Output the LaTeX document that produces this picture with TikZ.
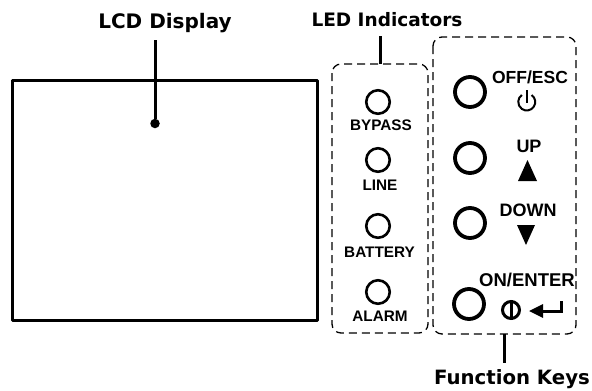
\documentclass[tikz,border=0pt]{standalone}
\usepackage{fontspec}
\setmainfont{Liberation Sans}
\newfontfamily\headfont{DejaVu Sans}
\usetikzlibrary{shapes.geometric,arrows.meta}
\tikzset{
  x=1pt,y=-1pt,
  heading/.style={font=\headfont\bfseries\fontsize{#1}{22}\selectfont,inner sep=0pt,text=black,anchor=base},
  ledlabel/.style={font=\bfseries\fontsize{15.3}{17}\selectfont,inner sep=0pt,text=black,anchor=base},
  keylabel/.style={font=\bfseries\fontsize{#1}{20}\selectfont,inner sep=0pt,text=black,anchor=base},
  led/.style={circle,draw=black,line width=2.6pt,minimum size=23.5pt,inner sep=0pt},
  keybtn/.style={circle,draw=black,line width=3.8pt,minimum size=30pt,inner sep=0pt},
  group/.style={draw=black,line width=1.3pt,dash pattern=on 8pt off 5pt,rounded corners=9pt},
  leader/.style={draw=black,line width=3pt},
}
\begin{document}
\begin{tikzpicture}
\useasboundingbox (0,0) rectangle (592,391);
% LCD
\node[draw=black,line width=3pt,line join=round,outer sep=0pt,minimum width=304.5pt,minimum height=240pt,inner sep=0pt,anchor=north west] (lcd) at (12.5,80) {};
\node[heading=20] (lcdt) at (165,28) {LCD Display};
\coordinate (lcdtop) at (155,40);
\node[circle,fill=black,inner sep=0pt,minimum size=9.5pt] (lcddot) at (155,123.5) {};
\draw[leader] (lcdtop) -- (lcddot);
% LED group
\draw[group] (332,64) rectangle (428,333);
\coordinate (ledtop) at (380,64);
\coordinate (ledlead) at (380,36);
\draw[leader] (ledlead) -- (ledtop);
\node[heading=18.5] (ledt) at (387,26) {LED Indicators};
\node[led] (l1) at (378,102) {};
\node[led] (l2) at (378,160) {};
\node[led] (l3) at (378,226) {};
\node[led] (l4) at (378,292) {};
\node[ledlabel] (t1) at (381,130.7) {BYPASS};
\node[ledlabel] (t2) at (380,190) {LINE};
\node[ledlabel] (t3) at (379.5,257.7) {BATTERY};
\node[ledlabel] (t4) at (380,321.7) {ALARM};
% keys
\draw[group] (433,37) rectangle (576,334);
\node[keybtn] (k1) at (470,92) {};
\node[keybtn] (k2) at (470,158) {};
\node[keybtn] (k3) at (470,223) {};
\node[keybtn] (k4) at (469,304) {};
\node[keylabel=17.5] (o1) at (530,83) {OFF/ESC};
\node[keylabel=18] (o2) at (529,152.7) {UP};
\node[keylabel=18] (o3) at (528,216) {DOWN};
\node[keylabel=18.5] (o4) at (527,286.7) {ON/ENTER};
% power symbol
\draw[black,line width=2pt] (531.6,95) arc[start angle=55,end angle=-235,radius=8.5pt];
\draw[black,line width=2pt] (526.7,90) -- (526.7,103);
% triangles
\fill[black] (518,181) -- (527.5,160) -- (537,181) -- cycle;
\fill[black] (517,225) -- (535,225) -- (526,245) -- cycle;
% on symbol
\node[circle,draw=black,line width=3pt,minimum size=17pt,inner sep=0pt] (onb) at (511,310) {};
\draw[black,line width=3pt] (onb.north) -- (onb.south);
\coordinate (ar1) at (561,301);
\coordinate (ar2) at (561,311);
\coordinate (ar3) at (529,311);
\draw[black,line width=3pt,-{Triangle[length=14pt,width=13pt]}] (ar1) -- (ar2) -- (ar3);
\coordinate (keybot) at (504,334);
\coordinate (keylead) at (504,363);
\draw[leader] (keybot) -- (keylead);
\node[heading=19.7] (keyt) at (512,384) {Function Keys};
\end{tikzpicture}
\end{document}
